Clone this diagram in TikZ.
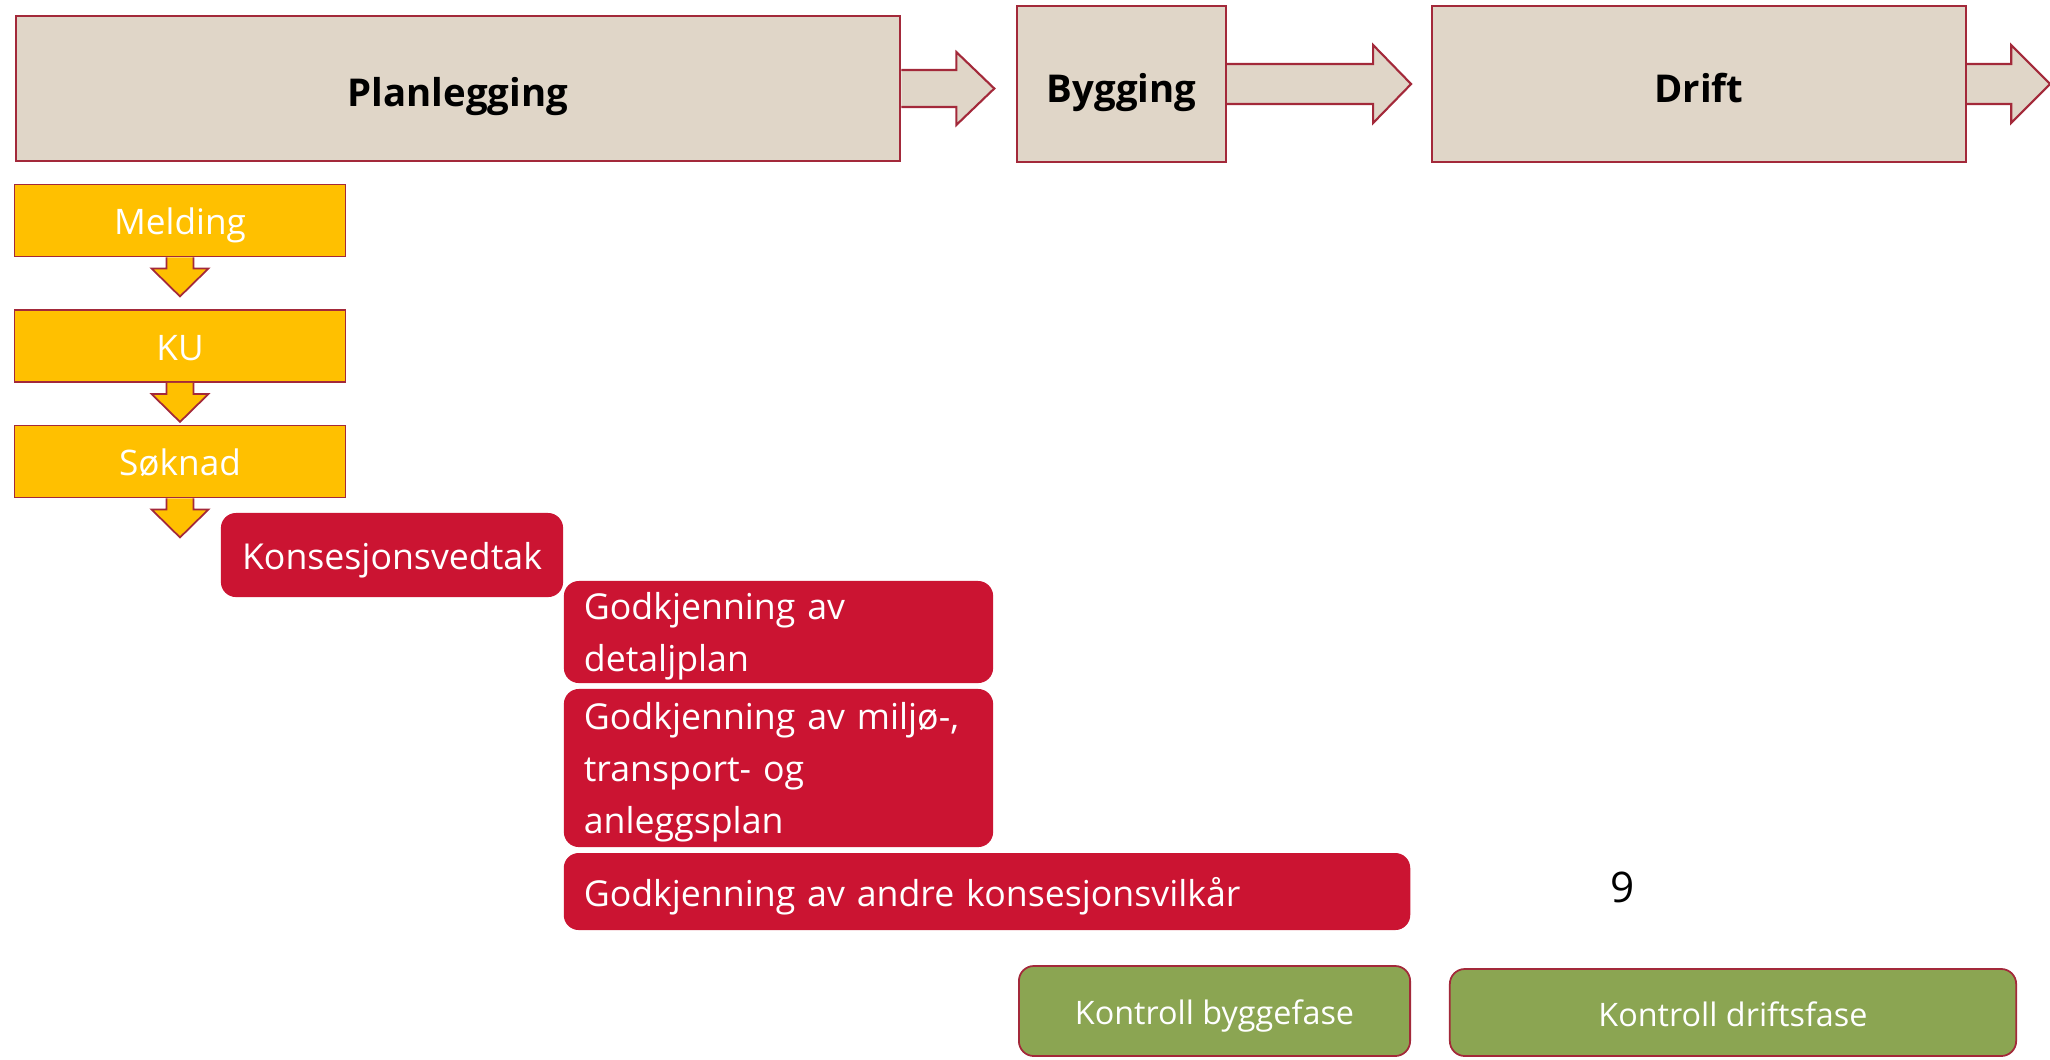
\documentclass[tikz,border=0pt]{standalone}
\usepackage{fontspec}
\setmainfont{Open Sans}
\definecolor{planbeige}{HTML}{E0D6C8}
\definecolor{planedge}{HTML}{A3293A}
\definecolor{stageyellow}{HTML}{FFC000}
\definecolor{vedtakred}{HTML}{CB1432}
\definecolor{kontrollgreen}{HTML}{8BA552}
\begin{document}
\begin{tikzpicture}[x=0.01cm,y=-0.01cm,
  phase/.style={rectangle,fill=planbeige,draw=planedge,line width=0.6pt,text height=10.5pt,text depth=0pt,font=\fontsize{10.9}{13}\selectfont\bfseries},
  phasearrow/.style={fill=planbeige,draw=planedge,line width=0.6pt},
  stage/.style={rectangle,fill=stageyellow,draw=planedge,line width=0.5pt,text=white,minimum width=3.31cm,minimum height=0.72cm,text height=8pt,text depth=0pt,font=\fontsize{10}{12}\selectfont},
  stagearrow/.style={fill=stageyellow,draw=planedge,line width=0.5pt},
  decision/.style={rectangle,rounded corners=0.15cm,fill=vedtakred,text=white,align=left,inner xsep=0.2cm,inner ysep=2pt,font=\fontsize{10.15}{14.8}\selectfont},
  control/.style={rectangle,rounded corners=0.15cm,fill=kontrollgreen,draw=planedge,line width=0.5pt,text=white,text height=7.8pt,text depth=0pt,font=\fontsize{9.2}{11}\selectfont}]
  \useasboundingbox (0,0) rectangle (2050,1059);

  \node[phase,minimum width=8.84cm,minimum height=1.45cm] (plan) at (458,88.5) {Planlegging};
  \node[phase,minimum width=2.09cm,minimum height=1.56cm] (bygg) at (1121.5,84) {Bygging};
  \node[phase,minimum width=5.34cm,minimum height=1.56cm] (drift) at (1699,84) {Drift};

  \filldraw[phasearrow] (plan.east) ++(0,-18.5) -- ++(55,0) -- ++(0,-18) -- ++(38,36.5) -- ++(-38,36.5) -- ++(0,-18) -- ++(-55,0);
  \filldraw[phasearrow] (bygg.east) ++(0,-20) -- ++(146,0) -- ++(0,-19) -- ++(38,39) -- ++(-38,39) -- ++(0,-19) -- ++(-146,0);
  \filldraw[phasearrow] (drift.east) ++(0,-20) -- ++(44,0) -- ++(0,-19) -- ++(39,39) -- ++(-39,39) -- ++(0,-19) -- ++(-44,0);

  \node[stage] (meld) at (180,220.5) {Melding};
  \node[stage] (ku) at (180,346) {KU};
  \node[stage] (sok) at (180,461.5) {Søknad};

  \filldraw[stagearrow] (meld.south) ++(-13.5,0) -- ++(0,11) -- ++(-15,0) -- ++(28.5,28) -- ++(28.5,-28) -- ++(-15,0) -- ++(0,-11);
  \filldraw[stagearrow] (ku.south) ++(-13.5,0) -- ++(0,11) -- ++(-15,0) -- ++(28.5,28) -- ++(28.5,-28) -- ++(-15,0) -- ++(0,-11);
  \filldraw[stagearrow] (sok.south) ++(-13.5,0) -- ++(0,11) -- ++(-15,0) -- ++(28.5,28) -- ++(28.5,-28) -- ++(-15,0) -- ++(0,-11);

  \node[decision,text width=3.02cm,align=center,minimum height=0.84cm,text height=8pt,text depth=0pt] (vedtak) at (392,555) {Konsesjonsvedtak};
  \node[decision,text width=3.89cm,minimum height=1.02cm,inner ysep=0pt] (detalj) at (778.5,632) {\rule{0pt}{10pt}Godkjenning av\\detaljplan};
  \node[decision,text width=3.89cm,minimum height=1.58cm,inner ysep=0pt] (miljo) at (778.5,768) {\rule{0pt}{10pt}\mbox{Godkjenning av miljø-,}\\transport- og\\anleggsplan};
  \node[decision,text width=8.06cm,minimum height=0.77cm,text height=8.5pt,text depth=0pt] (andre) at (987,891.5) {Godkjenning av andre konsesjonsvilkår};
  \node[font=\fontsize{12}{14}\selectfont] (nine) at (1623,887) {9};

  \node[control,minimum width=3.91cm,minimum height=0.9cm] (kbygg) at (1214.5,1011) {Kontroll byggefase};
  \node[control,minimum width=5.66cm,minimum height=0.87cm] (kdrift) at (1733,1012.5) {Kontroll driftsfase};
\end{tikzpicture}
\end{document}
